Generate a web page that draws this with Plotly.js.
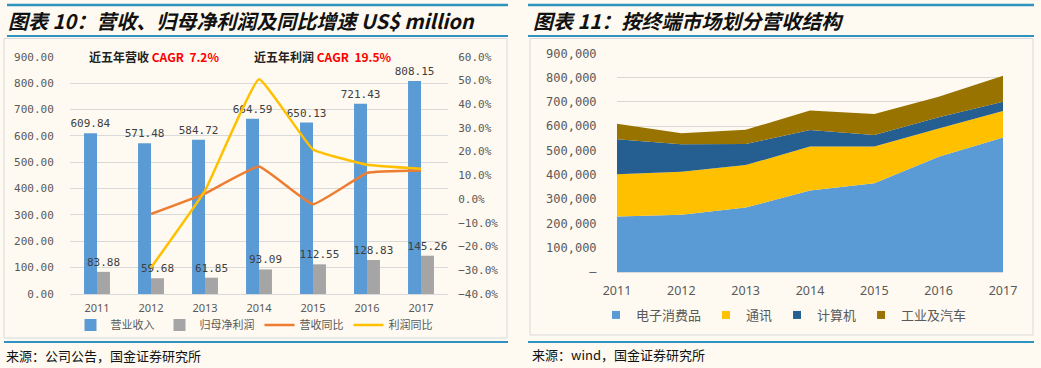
<!DOCTYPE html>
<html>
<head>
<meta charset="utf-8">
<script src="https://cdn.plot.ly/plotly-3.0.1.min.js"></script>
<style>
html,body{margin:0;padding:0;background:#FEFAF1;}
#chart{width:1041px;height:368px;}
</style>
</head>
<body>
<div id="chart"></div>
<script>
// ---------- data: left chart ----------
const years = ['2011','2012','2013','2014','2015','2016','2017'];
const revenue = [609.84, 571.48, 584.72, 664.59, 650.13, 721.43, 808.15];
const netProfit = [83.88, 59.68, 61.85, 93.09, 112.55, 128.83, 145.26];
const growthYears = ['2012','2013','2014','2015','2016','2017'];
const revenueYoY = [-6.3, 2.3, 13.7, -2.2, 11.0, 12.0];
const profitYoY = [-28.9, 3.6, 50.5, 20.9, 14.5, 12.8];

// ---------- data: right chart ----------
const marketYears = [2011, 2012, 2013, 2014, 2015, 2016, 2017];
const consumerElec = [228000, 236000, 265000, 335000, 365000, 474000, 554000];
const communication = [174000, 177000, 175000, 181000, 151000, 117000, 109000];
const computer = [144000, 113000, 87000, 68000, 48000, 46000, 38000];
const industrialAuto = [64000, 45000, 58000, 81000, 86000, 84000, 107000];
const rightTickVals = [0, 100000, 200000, 300000, 400000, 500000, 600000, 700000, 800000, 900000];
const rightTickText = ['–', '100,000', '200,000', '300,000', '400,000', '500,000', '600,000', '700,000', '800,000', '900,000'];

const W = 1041, H = 368;
const px = x => x / W;
const py = y => 1 - y / H;

const CJK = '"Noto Sans CJK SC", "Noto Sans", sans-serif';
const MONO = '"DejaVu Sans Mono", "Liberation Mono", monospace';
const SANS = '"Noto Sans", "Liberation Sans", sans-serif';
const GRAY = '#595959';
const BLUE_LINE = '#2E93C0';
const TRANSP = 'rgba(0,0,0,0)';

const traces = [
  {type:'bar', name:'营业收入', x:years, y:revenue, xaxis:'x', yaxis:'y',
   marker:{color:'#5B9BD5'}, text:revenue.map(v=>v.toFixed(2)), textposition:'outside',
   textfont:{family:MONO, size:11, color:'#404040'}, cliponaxis:false, constraintext:'none',
   legend:'legend', hoverinfo:'skip'},
  {type:'bar', name:'归母净利润', x:years, y:netProfit, xaxis:'x', yaxis:'y',
   marker:{color:'#A5A5A5'}, text:netProfit.map(v=>v.toFixed(2)), textposition:'outside',
   textfont:{family:MONO, size:11, color:'#404040'}, cliponaxis:false, constraintext:'none',
   legend:'legend', hoverinfo:'skip'},
  {type:'scatter', mode:'lines', name:'营收同比', x:growthYears, y:revenueYoY, xaxis:'x', yaxis:'y2',
   line:{color:'#ED7D31', width:2.5, shape:'spline', smoothing:0.3}, legend:'legend', hoverinfo:'skip'},
  {type:'scatter', mode:'lines', name:'利润同比', x:growthYears, y:profitYoY, xaxis:'x', yaxis:'y2',
   line:{color:'#FFC000', width:2.5, shape:'spline', smoothing:0.3}, legend:'legend', hoverinfo:'skip'},

  {type:'scatter', mode:'none', name:'电子消费品', x:marketYears, y:consumerElec, xaxis:'x3', yaxis:'y3',
   stackgroup:'one', fillcolor:'#5B9BD5', showlegend:false, hoverinfo:'skip'},
  {type:'scatter', mode:'none', name:'通讯', x:marketYears, y:communication, xaxis:'x3', yaxis:'y3',
   stackgroup:'one', fillcolor:'#FFC000', showlegend:false, hoverinfo:'skip'},
  {type:'scatter', mode:'none', name:'计算机', x:marketYears, y:computer, xaxis:'x3', yaxis:'y3',
   stackgroup:'one', fillcolor:'#255E91', showlegend:false, hoverinfo:'skip'},
  {type:'scatter', mode:'none', name:'工业及汽车', x:marketYears, y:industrialAuto, xaxis:'x3', yaxis:'y3',
   stackgroup:'one', fillcolor:'#997300', showlegend:false, hoverinfo:'skip'}
];
// legend entries for the area chart
[['电子消费品','#5B9BD5'],['通讯','#FFC000'],['计算机','#255E91'],['工业及汽车','#997300']].forEach(([n,c])=>{
  traces.push({type:'scatter', mode:'markers', name:n, x:[null], y:[null], xaxis:'x3', yaxis:'y3',
    marker:{symbol:'square', size:8, color:c}, legend:'legend2', hoverinfo:'skip'});
});

const shapes = [];
function hline(x0,x1,y,w,c){shapes.push({type:'line', xref:'paper', yref:'paper', x0:px(x0), x1:px(x1), y0:py(y), y1:py(y), line:{color:c, width:w}});}
function box(x0,x1,y0,y1){shapes.push({type:'rect', xref:'paper', yref:'paper', x0:px(x0), x1:px(x1), y0:py(y1), y1:py(y0), line:{color:'#D9D9D9', width:1}, fillcolor:'rgba(0,0,0,0)'});}
box(4,507,38.5,338);
box(530,1033,38.5,335);
hline(7,508,5,2.5,BLUE_LINE); hline(7,508,36,2,BLUE_LINE); hline(4,508,342,2,BLUE_LINE);
hline(528,1034,5,2.5,BLUE_LINE); hline(528,1034,36,2,BLUE_LINE); hline(528,1034,342,2,BLUE_LINE);

function note(x,y,text,font,anchor){return {xref:'paper', yref:'paper', x:px(x), y:py(y), xanchor:anchor||'left', yanchor:'middle', text:text, showarrow:false, font:font};}
const annotations = [
  note(6,20.5,'<b>图表 10：营收、归母净利润及同比增速 US$ million</b>',{family:CJK, size:20, color:'#111', style:'italic'}),
  note(531,20.5,'<b>图表 11：按终端市场划分营收结构</b>',{family:CJK, size:20, color:'#111', style:'italic'}),
  note(4,355,'来源：公司公告，国金证券研究所',{family:CJK, size:13, color:'#111'}),
  note(530,354,'来源：wind，国金证券研究所',{family:CJK, size:13, color:'#111'}),
  note(87,57,'<b>近五年营收\u00a0<span style="color:#FF0000">CAGR\u00a0\u00a07.2%</span></b>',{family:CJK, size:12, color:'#222'}),
  note(252,57,'<b>近五年利润\u00a0<span style="color:#FF0000">CAGR\u00a0\u00a019.5%</span></b>',{family:CJK, size:12, color:'#222'})
];

const layout = {
  width:W, height:H, margin:{l:0,r:0,t:0,b:0},
  paper_bgcolor:'#FEFAF1', plot_bgcolor:'rgba(0,0,0,0)',
  barmode:'group', bargap:0.52, bargroupgap:0,
  showlegend:true,
  xaxis:{domain:[px(70),px(448)], anchor:'y', type:'category', range:[-0.5,6.5],
    showline:true, linecolor:'#D9D9D9', linewidth:1, showgrid:false, zeroline:false,
    ticks:'outside', ticklen:4, tickcolor:TRANSP, tickfont:{family:SANS, size:11, color:GRAY}},
  yaxis:{domain:[py(294),py(56.7)], anchor:'x', range:[0,900], tickvals:[0,100,200,300,400,500,600,700,800,900],
    tickformat:'.2f', showgrid:true, gridcolor:'#D9D9D9', gridwidth:1, zeroline:false, showline:false,
    ticks:'outside', ticklen:13, tickcolor:TRANSP, tickfont:{family:MONO, size:11, color:GRAY}},
  yaxis2:{overlaying:'y', side:'right', anchor:'x', range:[-40,60], dtick:10, tick0:0,
    tickformat:'.1f', ticksuffix:'%', showgrid:false, zeroline:false, showline:false,
    ticks:'outside', ticklen:7, tickcolor:TRANSP, tickfont:{family:MONO, size:11, color:GRAY}},
  xaxis3:{domain:[px(617),px(1003)], anchor:'y3', range:[2011,2017], tickvals:marketYears,
    showline:true, linecolor:'#D9D9D9', showgrid:false, zeroline:false,
    ticks:'outside', ticklen:7, tickcolor:TRANSP, tickfont:{family:SANS, size:12.5, color:GRAY}},
  yaxis3:{domain:[py(272),py(53.3)], anchor:'x3', range:[0,900000], tickvals:rightTickVals, ticktext:rightTickText,
    showgrid:true, gridcolor:'#D9D9D9', zeroline:false, showline:false,
    ticks:'outside', ticklen:17, tickcolor:TRANSP, tickfont:{family:MONO, size:12, color:GRAY}},
  legend:{orientation:'h', x:px(254), xanchor:'center', y:py(325), yanchor:'middle',
    bgcolor:'rgba(0,0,0,0)', font:{family:CJK, size:11, color:GRAY}, traceorder:'normal'},
  legend2:{orientation:'h', x:px(784), xanchor:'center', y:py(315), yanchor:'middle',
    bgcolor:'rgba(0,0,0,0)', font:{family:CJK, size:13, color:GRAY}, traceorder:'normal'},
  shapes:shapes, annotations:annotations
};

Plotly.newPlot('chart', traces, layout, {staticPlot:true, displayModeBar:false});
</script>
</body>
</html>
